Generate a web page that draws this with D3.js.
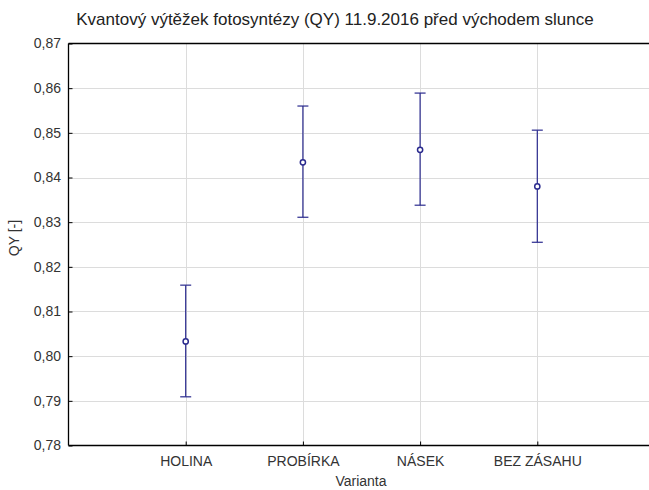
<!DOCTYPE html>
<html>
<head>
<meta charset="utf-8">
<script src="https://cdn.jsdelivr.net/npm/d3@7"></script>
<style>
  html, body { margin: 0; padding: 0; background: #fff; overflow: hidden; }
  svg { display: block; font-family: "Liberation Sans", Arial, sans-serif; }
</style>
</head>
<body>
<div id="chart"></div>
<script>
"use strict";

const categories = ["HOLINA", "PROBÍRKA", "NÁSEK", "BEZ ZÁSAHU"];
const means = [0.8033, 0.8434, 0.8462, 0.8380];
const upper = [0.8159, 0.8560, 0.8589, 0.8506];
const lower = [0.7909, 0.8311, 0.8338, 0.8255];
const yTicks = [0.78, 0.79, 0.80, 0.81, 0.82, 0.83, 0.84, 0.85, 0.86, 0.87];

const width = 649;
const height = 490;
const plot = { left: 68.5, right: 654.5, top: 43.5, bottom: 445.5 };
const barColor = "#2a2a8e";
const gridColor = "#dcdcdc";
const labelColor = "#333";

const czFormat = d3.formatLocale({ decimal: ",", thousands: " ", grouping: [3], currency: ["", " Kč"] }).format(".2f");

const rows = categories.map((name, i) => ({ name, mean: means[i], hi: upper[i], lo: lower[i] }));

const svg = d3.select("#chart")
  .append("svg")
  .attr("width", width)
  .attr("height", height)
  .attr("viewBox", `0 0 ${width} ${height}`);

const x = d3.scalePoint()
  .domain(categories)
  .range([plot.left, plot.right])
  .padding(1);

const y = d3.scaleLinear()
  .domain([0.78, 0.87])
  .range([plot.bottom, plot.top]);

// grid
svg.append("g")
  .selectAll("line.hgrid")
  .data(yTicks.slice(1, -1))
  .join("line")
  .attr("x1", plot.left)
  .attr("x2", width)
  .attr("y1", (v) => Math.round(y(v)) + 0.5)
  .attr("y2", (v) => Math.round(y(v)) + 0.5)
  .attr("stroke", gridColor)
  .attr("stroke-width", 1);

svg.append("g")
  .selectAll("line.vgrid")
  .data(categories)
  .join("line")
  .attr("x1", (c) => Math.round(x(c)) + 0.5)
  .attr("x2", (c) => Math.round(x(c)) + 0.5)
  .attr("y1", plot.top)
  .attr("y2", plot.bottom)
  .attr("stroke", gridColor)
  .attr("stroke-width", 1);

// frame: top, left, bottom (right side falls outside the picture)
const frame = [
  [plot.left, plot.top, width, plot.top],
  [plot.left, plot.top, plot.left, plot.bottom],
  [plot.left, plot.bottom, width, plot.bottom],
];
svg.append("g")
  .selectAll("line")
  .data(frame)
  .join("line")
  .attr("x1", (d) => d[0])
  .attr("y1", (d) => d[1])
  .attr("x2", (d) => d[2])
  .attr("y2", (d) => d[3])
  .attr("stroke", "#000")
  .attr("stroke-width", 1.3);

// axes
svg.append("g")
  .attr("transform", `translate(${plot.left},0)`)
  .call(d3.axisLeft(y).tickValues(yTicks).tickFormat(czFormat).tickSizeInner(-4).tickSizeOuter(0).tickPadding(7.5))
  .call((axis) => axis.select(".domain").remove())
  .call((axis) => axis.selectAll("line").attr("stroke", "#000"))
  .call((axis) => axis.selectAll("text")
    .attr("fill", labelColor)
    .attr("font-size", 14)
    .attr("font-family", "Liberation Sans, Arial, sans-serif"));

svg.append("g")
  .attr("transform", `translate(0,${plot.bottom})`)
  .call(d3.axisBottom(x).tickSizeInner(-4).tickSizeOuter(0).tickPadding(10.5))
  .call((axis) => axis.select(".domain").remove())
  .call((axis) => axis.selectAll("line").attr("stroke", "#000"))
  .call((axis) => axis.selectAll("text")
    .attr("fill", labelColor)
    .attr("font-size", 14)
    .attr("font-family", "Liberation Sans, Arial, sans-serif"));

// error bars
const bars = svg.append("g").selectAll("g.bar").data(rows).join("g");

bars.append("line")
  .attr("x1", (d) => x(d.name))
  .attr("x2", (d) => x(d.name))
  .attr("y1", (d) => y(d.hi))
  .attr("y2", (d) => y(d.lo))
  .attr("stroke", barColor)
  .attr("stroke-width", 1.2);

["hi", "lo"].forEach((key) => {
  bars.append("line")
    .attr("x1", (d) => x(d.name) - 5.5)
    .attr("x2", (d) => x(d.name) + 5.5)
    .attr("y1", (d) => y(d[key]))
    .attr("y2", (d) => y(d[key]))
    .attr("stroke", barColor)
    .attr("stroke-width", 1.2);
});

bars.append("circle")
  .attr("cx", (d) => x(d.name))
  .attr("cy", (d) => y(d.mean))
  .attr("r", 2.6)
  .attr("fill", "#fff")
  .attr("stroke", barColor)
  .attr("stroke-width", 1.5);

// titles
svg.append("text")
  .attr("x", 335)
  .attr("y", 25)
  .attr("text-anchor", "middle")
  .attr("font-size", 17)
  .attr("fill", "#222")
  .text("Kvantový výtěžek fotosyntézy (QY) 11.9.2016 před východem slunce");

svg.append("text")
  .attr("x", 361)
  .attr("y", 486)
  .attr("text-anchor", "middle")
  .attr("font-size", 14)
  .attr("fill", labelColor)
  .text("Varianta");

svg.append("text")
  .attr("transform", `translate(19,${238}) rotate(-90)`)
  .attr("text-anchor", "middle")
  .attr("font-size", 14)
  .attr("fill", labelColor)
  .text("QY [-]");
</script>
</body>
</html>
